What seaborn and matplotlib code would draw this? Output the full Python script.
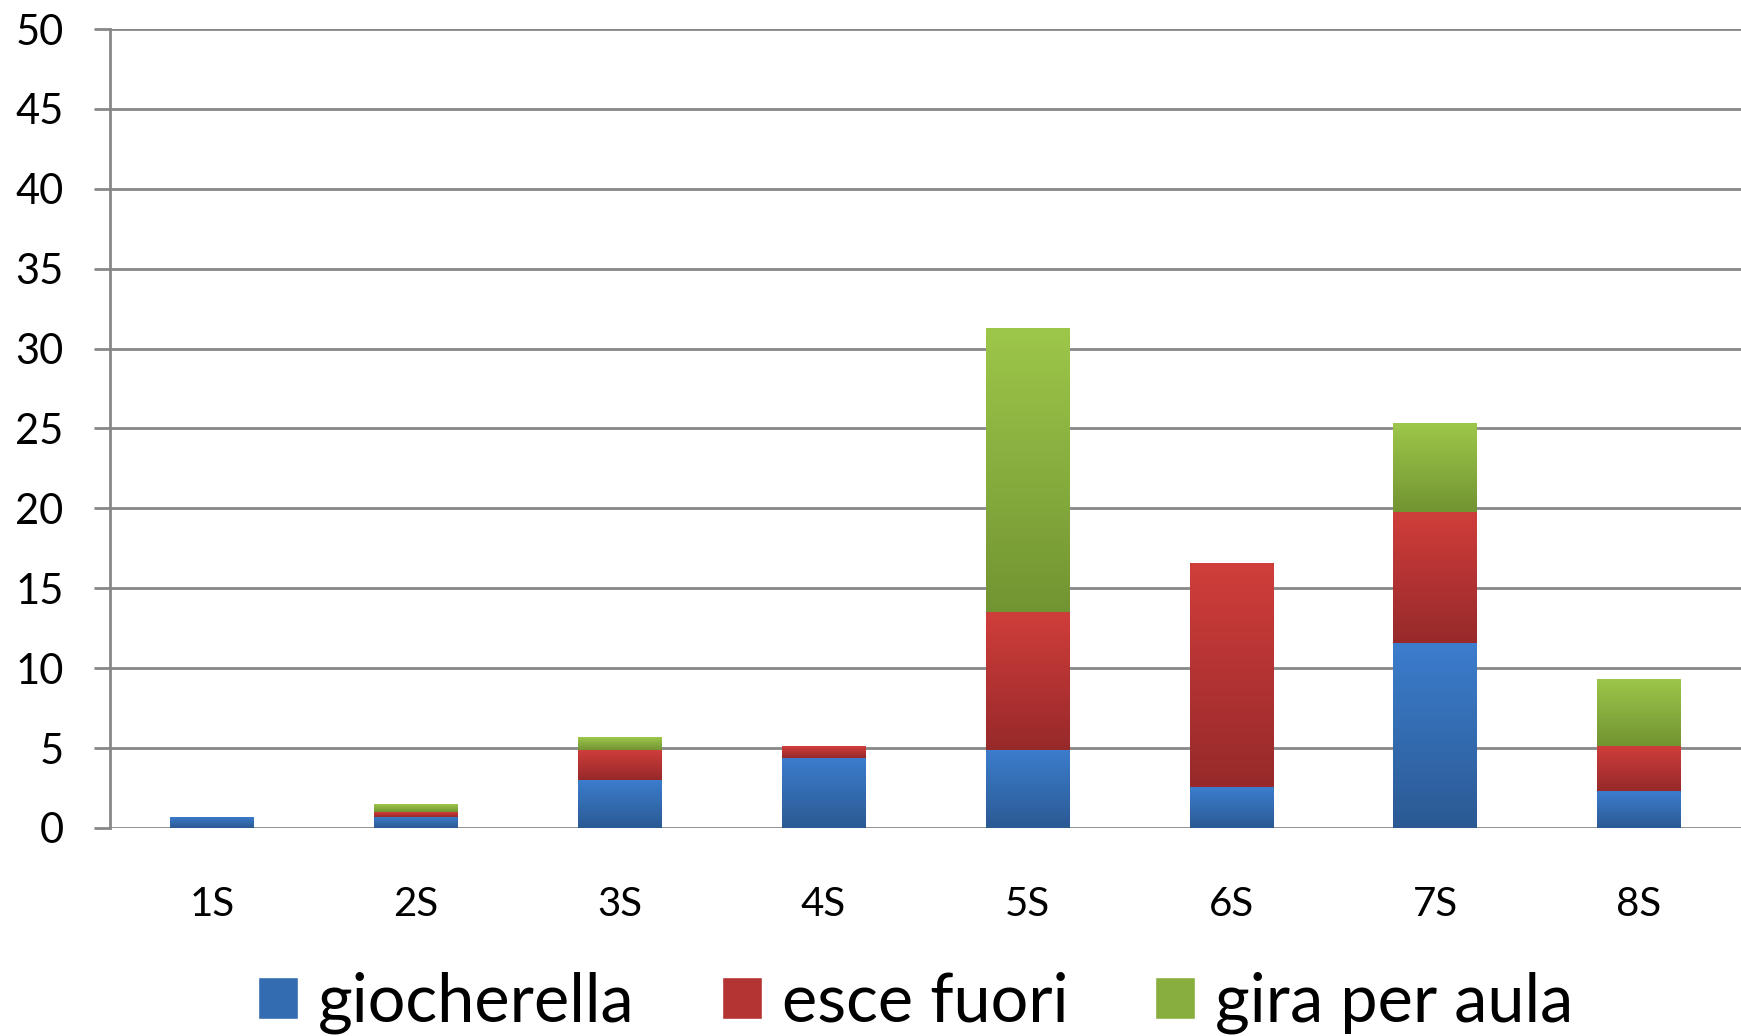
import numpy as np
import pandas as pd
import seaborn as sns
import matplotlib.pyplot as plt
from matplotlib.patches import Patch
from matplotlib.colors import LinearSegmentedColormap, to_rgb

# dati
classi = ['1S', '2S', '3S', '4S', '5S', '6S', '7S', '8S']
giocherella = [0.7, 0.7, 3.0, 4.4, 4.9, 2.55, 11.55, 2.3]
esce_fuori = [0.0, 0.3, 1.9, 0.75, 8.6, 14.05, 8.25, 2.85]
gira_per_aula = [0.0, 0.5, 0.8, 0.0, 17.8, 0.0, 5.55, 4.2]

serie = [
    ('giocherella', giocherella, '#3C7DCD', '#2B5A94'),
    ('esce fuori', esce_fuori, '#D03E3B', '#97292A'),
    ('gira per aula', gira_per_aula, '#9DC74A', '#729432'),
]

sns.set_style('white')
plt.rcParams['font.family'] = ['Lato', 'DejaVu Sans']
plt.rcParams['text.color'] = 'black'

fig = plt.figure(figsize=(17.41, 10.36), dpi=100)
ax = fig.add_axes([0.0632, 0.2008, 0.9368, 0.7712])

base = np.zeros(len(classi))
handles = []
for nome, valori, chiaro, scuro in serie:
    df = pd.DataFrame({'classe': classi, 'valore': valori})
    sns.barplot(data=df, x='classe', y='valore', ax=ax, color=chiaro,
                width=0.41, bottom=base.copy(), saturation=1, linewidth=0)
    cmap = LinearSegmentedColormap.from_list(nome, [scuro, chiaro])
    grad = np.linspace(0, 1, 256).reshape(-1, 1)
    for bar in ax.containers[-1]:
        x0, y0 = bar.get_x(), bar.get_y()
        w, h = bar.get_width(), bar.get_height()
        if h <= 0:
            continue
        im = ax.imshow(grad, cmap=cmap, origin='lower', aspect='auto',
                       extent=(x0, x0 + w, y0, y0 + h), zorder=bar.get_zorder())
        im.set_clip_path(bar)
    base += np.array(valori)
    medio = 0.5 * np.array(to_rgb(chiaro)) + 0.5 * np.array(to_rgb(scuro))
    handles.append(Patch(facecolor=medio, label=nome))

ax.set_xlim(-0.5, len(classi) - 0.5)
ax.set_ylim(0, 50)
ax.set_yticks(range(0, 51, 5))
ax.set_xlabel('')
ax.set_ylabel('')

grigio = '#878787'
ax.set_axisbelow(True)
ax.yaxis.grid(True, color=grigio, linewidth=2)
ax.xaxis.grid(False)
for s in ['top', 'right', 'bottom']:
    ax.spines[s].set_visible(False)
ax.spines['left'].set_color(grigio)
ax.spines['left'].set_linewidth(2)

# tacche tra le categorie, etichette al centro
ax.set_xticks(np.arange(-0.5, len(classi), 1))
ax.set_xticklabels([''] * (len(classi) + 1))
ax.set_xticks(range(len(classi)), minor=True)
ax.set_xticklabels(classi, minor=True)
ax.tick_params(axis='x', which='major', length=11, width=2, color=grigio, direction='out')
ax.tick_params(axis='x', which='minor', length=0, pad=42, labelsize=29, labelcolor='black')
ax.tick_params(axis='y', length=11.5, width=2, color=grigio, pad=22, labelsize=30,
               left=True, labelcolor='black')

fig.legend(handles=handles, loc='center', bbox_to_anchor=(0.526, 0.032), ncol=3,
           frameon=False, fontsize=48, handlelength=0.6, handleheight=0.6,
           handletextpad=0.3, columnspacing=1.3, borderpad=0, labelcolor='black')

fig.savefig('out.png', dpi=100)
